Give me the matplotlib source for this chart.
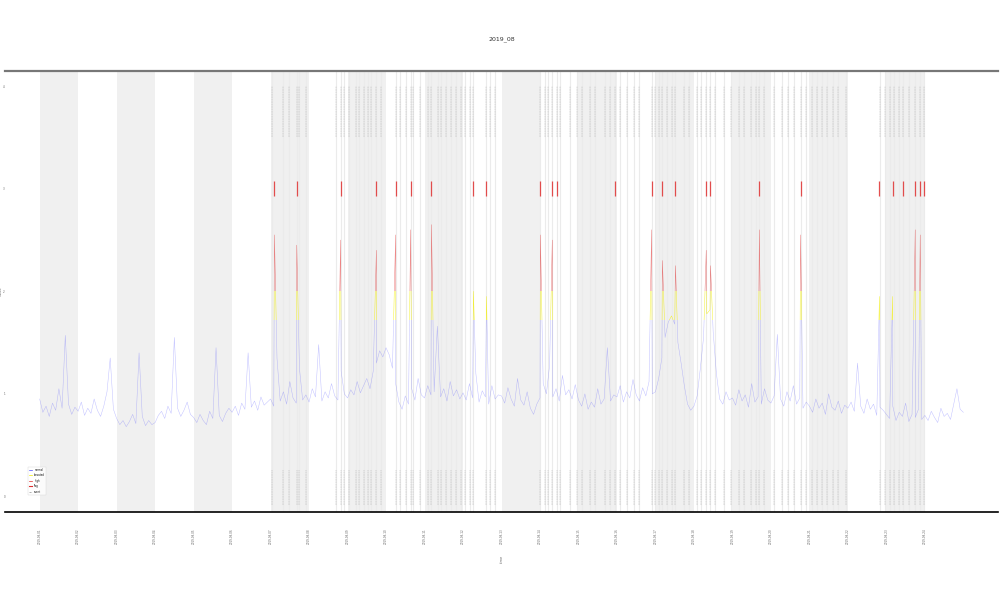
"""
plot.py - daily signal with events (recreation)
"""

import matplotlib.pyplot as plt
import numpy as np
import pandas as pd
from matplotlib.patches import Rectangle
from matplotlib.lines import Line2D

# DATA

title = "2019_08"
start_date = "2019-08-01"
n_days = 24
samples_per_day = 12

# signal, 12 samples per day
signal = [
    0.95, 0.82, 0.88, 0.78, 0.91, 0.84, 1.05, 0.86, 1.57, 0.90, 0.80, 0.87,
    0.83, 0.92, 0.79, 0.86, 0.81, 0.95, 0.84, 0.78, 0.88, 1.02, 1.35, 0.85,
    0.76, 0.70, 0.74, 0.68, 0.73, 0.80, 0.71, 1.40, 0.78, 0.69, 0.74, 0.70,
    0.72, 0.79, 0.83, 0.76, 0.88, 0.81, 1.55, 0.86, 0.78, 0.84, 0.92, 0.80,
    0.77, 0.72, 0.80, 0.74, 0.70, 0.83, 0.76, 1.45, 0.79, 0.73, 0.81, 0.86,
    0.82, 0.88, 0.79, 0.91, 0.85, 1.40, 0.87, 0.93, 0.84, 0.97, 0.89, 0.92,
    0.95, 0.88, 1.35, 0.93, 1.02, 0.90, 1.12, 0.96, 0.91, 1.25, 0.94, 0.99,
    0.92, 1.05, 0.97, 1.48, 0.93, 1.02, 0.96, 1.10, 0.98, 0.94, 1.22, 1.00,
    0.96, 1.04, 0.99, 1.12, 1.01, 1.08, 1.15, 1.05, 1.22, 1.30, 1.42, 1.36,
    1.45, 1.38, 1.25, 1.10, 0.92, 0.85, 0.98, 0.90, 1.05, 0.94, 1.15, 0.99,
    0.96, 1.08, 0.99, 1.02, 1.66, 0.97, 1.05, 0.93, 1.12, 0.98, 1.04, 0.95,
    1.01, 0.94, 1.10, 0.96, 1.20, 0.92, 1.03, 0.97, 0.90, 1.08, 0.95, 0.99,
    0.98, 0.91, 1.06, 0.95, 0.88, 1.15, 0.94, 0.89, 1.02, 0.86, 0.80, 0.90,
    0.96, 1.10, 1.00, 1.28, 0.97, 1.05, 0.93, 1.18, 0.99, 1.04, 0.95, 1.09,
    0.94, 0.88, 1.00, 0.85, 0.92, 0.87, 1.05, 0.90, 0.95, 1.45, 0.93, 0.99,
    0.97, 1.08, 0.92, 1.02, 0.96, 1.14, 0.99, 0.93, 1.06, 0.98, 1.12, 1.00,
    1.02, 1.15, 1.35, 1.55, 1.70, 1.76, 1.68, 1.50, 1.30, 1.08, 0.90, 0.84,
    0.88, 0.98, 1.25, 1.55, 1.78, 1.82, 1.60, 1.20, 0.95, 0.90, 1.02, 0.94,
    0.96, 0.89, 1.04, 0.93, 0.99, 0.87, 1.10, 0.92, 0.97, 0.90, 1.05, 0.94,
    0.91, 0.98, 1.58, 0.95, 0.88, 1.02, 0.93, 1.08, 0.90, 0.96, 0.86, 0.92,
    0.88, 0.82, 0.95, 0.86, 0.91, 0.80, 1.00, 0.87, 0.84, 0.93, 0.81, 0.89,
    0.86, 0.92, 0.83, 1.30, 0.88, 0.81, 0.95, 0.85, 0.90, 0.79, 0.87, 0.84,
    0.80, 0.76, 0.88, 0.74, 0.82, 0.78, 0.91, 0.73, 0.80, 0.77, 0.85, 0.75,
    0.79, 0.74, 0.83, 0.77, 0.72, 0.86, 0.78, 0.81, 0.75, 0.90, 1.05, 0.85,
    0.82,
]

# short spikes of the signal (day, value)
spike_days = [6.10, 6.68, 7.82, 8.75, 9.25, 9.64, 10.18, 11.27, 11.61, 13.01,
              13.32, 15.90, 16.18, 16.52, 17.32, 17.43, 18.70, 19.77, 21.82,
              22.16, 22.75, 22.88]
spike_vals = [2.55, 2.45, 2.50, 2.40, 2.55, 2.60, 2.65, 2.00, 1.95, 2.55,
              2.50, 2.60, 2.30, 2.25, 2.40, 2.25, 2.60, 2.55, 1.95,
              1.95, 2.60, 2.55]

# recorded events (day)
event_days = [
    6.05, 6.31, 6.47, 6.68, 6.75, 6.91, 7.71, 7.82, 7.90, 8.05, 8.21, 8.31,
    8.42, 8.52, 8.62, 8.75, 8.86, 9.25, 9.35, 9.51, 9.64, 9.71, 9.87, 10.08,
    10.18, 10.34, 10.42, 10.57, 10.68, 10.83, 10.94, 11.06, 11.17, 11.27,
    11.61, 11.71, 11.84, 13.01, 13.14, 13.22, 13.32, 13.43, 13.53, 13.77,
    13.97, 14.10, 14.29, 14.44, 14.68, 14.83, 14.94, 15.09, 15.27, 15.43,
    15.56, 15.90, 16.00, 16.10, 16.18, 16.29, 16.42, 16.52, 16.75, 16.88,
    17.09, 17.19, 17.32, 17.43, 17.56, 17.77, 17.95, 18.18, 18.31, 18.47,
    18.60, 18.70, 18.81, 19.09, 19.30, 19.45, 19.61, 19.77, 19.92, 20.08,
    20.21, 20.34, 20.47, 20.60, 20.75, 20.94, 21.84, 21.97, 22.10, 22.21,
    22.34, 22.44, 22.60, 22.75, 22.88, 22.99,
]

# flagged events (day)
flag_days = [6.10, 6.68, 7.82, 8.75, 9.25, 9.64, 10.18, 11.27, 11.61, 13.01,
             13.32, 13.45, 14.94, 15.90, 16.18, 16.52, 17.32, 17.43, 18.70,
             19.77, 21.82, 22.16, 22.44, 22.75, 22.88, 22.99]

tick_labels = [d.strftime("%Y-%m-%d") for d in pd.date_range(start_date, periods=n_days)]

# thresholds for line colouring
warn_level = 1.72
alarm_level = 2.0

# PLOT

fig = plt.figure(figsize=(10, 6), dpi=100)
ax = fig.add_axes([0.005, 0.147, 0.993, 0.735])

for d in range(0, n_days, 2):
    ax.axvspan(d, d + 1, color="#f0f0f0", lw=0, zorder=0)

for d in event_days:
    ax.axvline(d, color="#ebebeb", lw=0.8, zorder=0.5)

ax.vlines(event_days, 3.5, 4.0, color="#777777", lw=0.25, alpha=0.7,
          linestyles=(0, (5, 2)), zorder=2)
ax.vlines(event_days, -0.08, 0.26, color="#777777", lw=0.25, alpha=0.7,
          linestyles=(0, (5, 2)), zorder=2)
ax.vlines(flag_days, 2.93, 3.08, color="#e03030", lw=0.9, alpha=0.85, zorder=3)

t = np.arange(len(signal)) / samples_per_day
t_all = np.concatenate([t, spike_days])
v_all = np.concatenate([signal, spike_vals])
order = np.argsort(t_all)
t_all, v_all = t_all[order], v_all[order]

bands = [
    (-1.0, warn_level, "#4a4aff", 0.35, "normal"),
    (warn_level, alarm_level, "#f2ee00", 0.8, "elevated"),
    (alarm_level, 6.0, "#e02828", 0.6, "high"),
]
for lo, hi, col, alpha, name in bands:
    ln, = ax.plot(t_all, v_all, color=col, lw=0.35, alpha=alpha, zorder=4)
    ln.set_clip_path(Rectangle((-5, lo), 40, hi - lo, transform=ax.transData))

ax.set_xlim(-0.9, 24.9)
ax.set_ylim(-0.15, 4.15)

ax.set_xticks(range(n_days))
ax.set_xticklabels(tick_labels, rotation=90, fontsize=2, color="#666666")
ax.set_yticks(range(5))
ax.set_yticklabels([str(v) for v in range(5)], fontsize=2, color="#666666")
ax.tick_params(axis="x", length=0, pad=12)
ax.tick_params(axis="y", length=0, pad=0)
ax.set_xlabel("time", fontsize=2.5, rotation=90, labelpad=8, color="#666666")
ax.set_ylabel("value", fontsize=2.5, labelpad=0, color="#666666")
ax.set_title(title, fontsize=4.5, pad=22, color="#333333")

for side in ("left", "right"):
    ax.spines[side].set_visible(False)
ax.spines["top"].set_color("#777777")
ax.spines["top"].set_linewidth(1.6)
ax.spines["bottom"].set_color("black")
ax.spines["bottom"].set_linewidth(1.2)

handles = [
    Line2D([], [], color=bands[0][2], lw=0.5, label="normal"),
    Line2D([], [], color=bands[1][2], lw=0.5, label="elevated"),
    Line2D([], [], color=bands[2][2], lw=0.5, label="high"),
    Line2D([], [], color="#e03030", lw=0.8, label="flag"),
    Line2D([], [], color="#777777", lw=0.4, ls="--", label="event"),
]
leg = ax.legend(handles=handles, loc="lower left", bbox_to_anchor=(0.022, 0.035),
                fontsize=1.8, frameon=True, handlelength=1.2, borderpad=0.5,
                labelspacing=0.6)
leg.get_frame().set_linewidth(0.3)

fig.savefig("out.png", dpi=100)
plt.close(fig)
